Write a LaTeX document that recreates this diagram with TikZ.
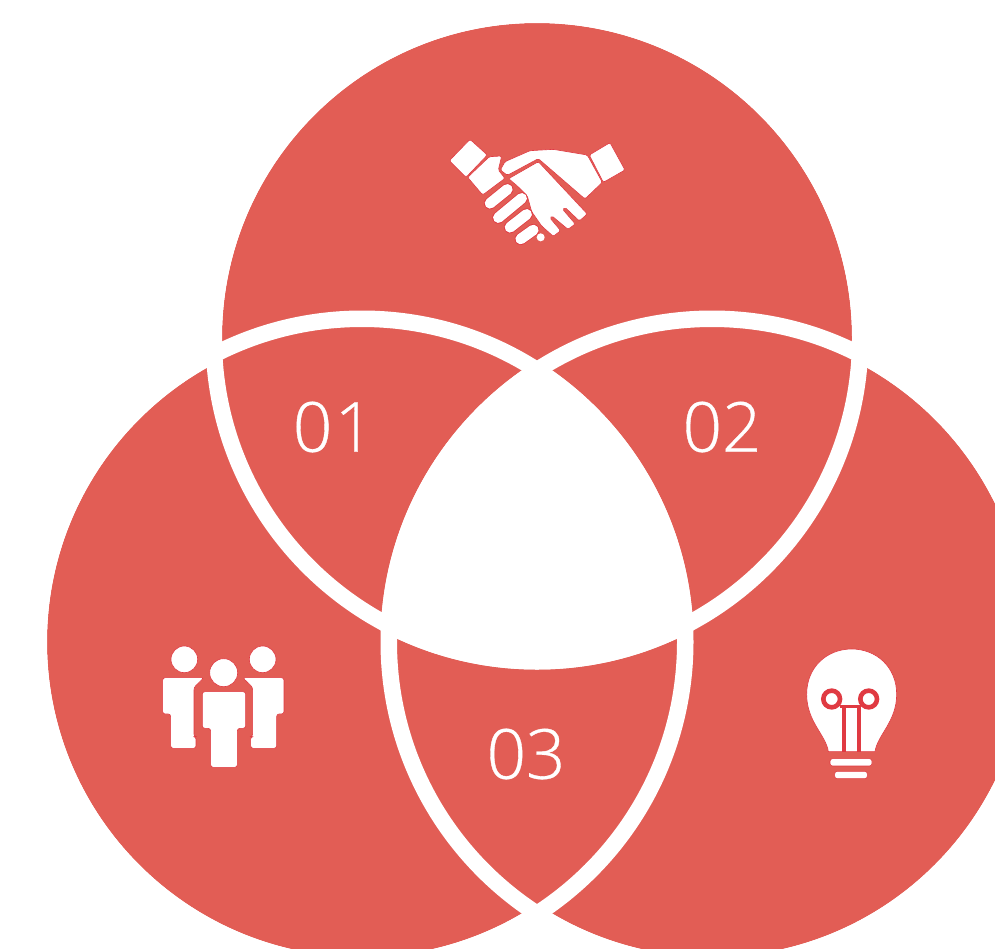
\documentclass[tikz,border=0pt]{standalone}
\usepackage{fontspec}
\newfontfamily\lblfont[UprightFeatures={FakeBold=0.5}]{Open Sans Light}
\definecolor{venn}{HTML}{E25D55}
\definecolor{edge}{HTML}{E03A42}
\tikzset{
  lbl/.style={text=white,inner sep=0pt,font=\lblfont\fontsize{69}{69}\selectfont},
  ico/.style={fill=white,draw=edge,line width=0.6pt,line join=round,rounded corners=2.5pt},
  icohand/.style={fill=white,draw=edge,line width=0.6pt,line join=round,rounded corners=1.5pt},
  icoring/.style={draw=edge,line width=4.6pt},
  icoline/.style={draw=edge,line width=3.8pt}
}
\newcommand{\finger}[2]{\draw[draw=edge,line width=12pt,line cap=round] #1 -- #2; \draw[draw=white,line width=10.6pt,line cap=round] #1 -- #2;}
\begin{document}
\begin{tikzpicture}[x=1pt,y=-1pt]
\useasboundingbox (0,0) rectangle (995,948);
\clip (0,0) rectangle (995,948);
\fill[white] (0,0) rectangle (995,948);
\coordinate (T) at (537,338);
\coordinate (L) at (362,642);
\coordinate (R) at (712,642);
% discs
\fill[venn] (T) circle (315pt);
\fill[venn] (L) circle (315pt);
\fill[venn] (R) circle (315pt);
% white rings
\fill[white,even odd rule] (T) circle (315pt) (T) circle (331.5pt);
\fill[white,even odd rule] (L) circle (315pt) (L) circle (331.5pt);
\fill[white,even odd rule] (R) circle (315pt) (R) circle (331.5pt);
% white centre
\begin{scope}
\clip (T) circle (331.5pt);
\clip (L) circle (331.5pt);
\fill[white] (R) circle (331.5pt);
\end{scope}
% labels
\node[lbl] (n01) at (333.5,427) {0\kern2.5pt 1};
\node[lbl] (n02) at (722,427) {02};
\node[lbl] (n03) at (526,754) {03};
% handshake
\begin{scope}[shift={(430,120)},x=0.3333pt,y=-0.3333pt]
\path[icohand] (120,58) -- (172,105) -- (108,172) -- (58,122) -- cycle;
\path[icohand] (478,105) -- (540,68) -- (585,150) -- (520,187) -- cycle;
\path[icohand] (178,110) -- (215,108) -- (205,150) -- (225,175) -- (158,225) -- (113,172) -- cycle;
\path[icohand] (236,176) -- (325,125) -- (472,282) -- (448,303) -- (405,262) -- (398,268) -- (436,312) -- (414,328) -- (366,288) -- (360,294) -- (392,332) -- (370,349) -- (335,318) -- (305,275) -- (292,228) -- (262,198) -- cycle;
\path[icohand] (211,150) -- (225,125) -- (300,92) -- (370,88) -- (472,105) -- (517,187) -- (465,237) -- (325,116) -- (232,166) -- cycle;
\finger{(180,250)}{(232,208)}
\finger{(205,293)}{(275,235)}
\finger{(240,322)}{(290,283)}
\finger{(272,357)}{(310,330)}
\fill[white] (332,352) circle (4pt);
\end{scope}
% people
\begin{scope}[shift={(140,630)},x=0.3333pt,y=-0.3333pt]
\path[ico] (133,88) circle (40);
\path[ico] (368,88) circle (40);
\path[ico] (68,143) -- (192,143) -- (162,172) -- (162,320) -- (168,320) -- (168,355) -- (92,355) -- (92,252) -- (68,252) -- cycle;
\path[ico] (308,143) -- (432,143) -- (432,252) -- (410,252) -- (410,355) -- (332,355) -- (332,320) -- (338,320) -- (338,172) -- cycle;
\path[ico] (187,185) -- (317,185) -- (317,295) -- (292,295) -- (292,412) -- (212,412) -- (212,295) -- (187,295) -- cycle;
\path[ico] (251,128) circle (42);
\end{scope}
% bulb
\begin{scope}[shift={(790,635)},x=0.3333pt,y=-0.3333pt]
\path[fill=white,draw=edge,line width=0.6pt] (115,350) .. controls (108,300) and (50,260) .. (50,178)
  .. controls (50,95) and (112,42) .. (185,42)
  .. controls (258,42) and (320,95) .. (320,178)
  .. controls (320,260) and (262,300) .. (255,350) -- cycle;
\draw[icoring] (125,192) circle (25) (236,192) circle (25);
\draw[draw=edge,line width=3pt] (150,214) -- (212,214);
\draw[icoline] (161,214) -- (161,350) (206,214) -- (206,350);
\path[ico] (120,371) rectangle (246,393);
\path[ico] (134,409) rectangle (232,431);
\end{scope}
\end{tikzpicture}
\end{document}
